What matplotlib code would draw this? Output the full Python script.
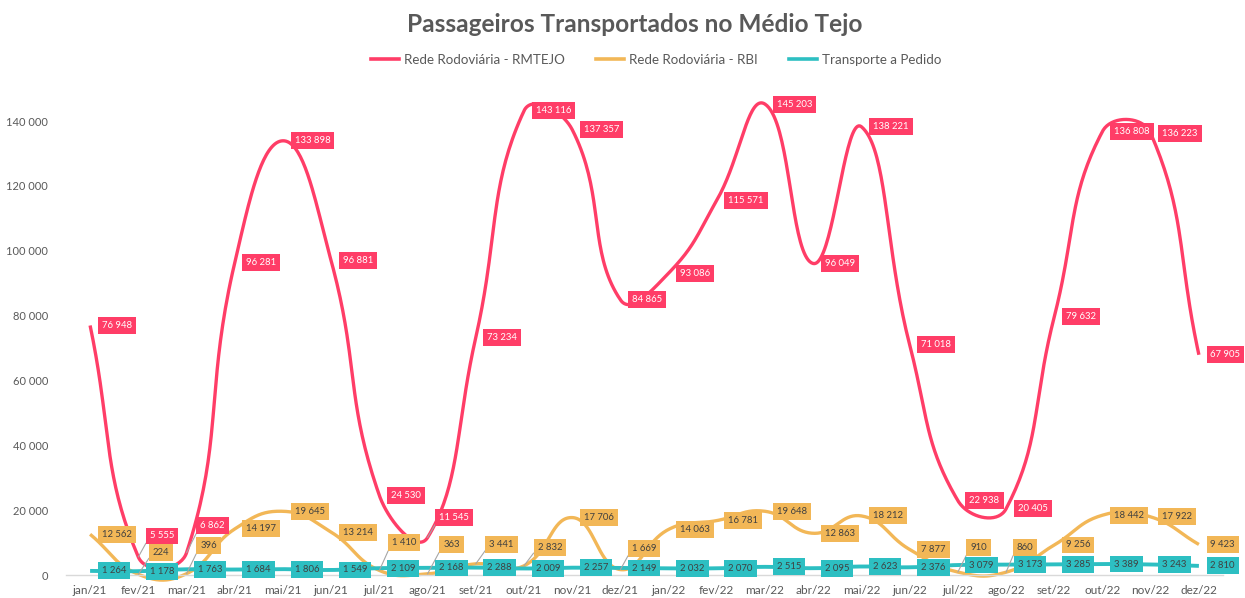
import numpy as np
import matplotlib
matplotlib.use("Agg")
import matplotlib.pyplot as plt
from matplotlib.lines import Line2D

# ---------------- data ----------------
months = ["jan/21", "fev/21", "mar/21", "abr/21", "mai/21", "jun/21", "jul/21", "ago/21",
          "set/21", "out/21", "nov/21", "dez/21", "jan/22", "fev/22", "mar/22", "abr/22",
          "mai/22", "jun/22", "jul/22", "ago/22", "set/22", "out/22", "nov/22", "dez/22"]
rmtejo = [76948, 5555, 6862, 96281, 133898, 96881, 24530, 11545, 73234, 143116, 137357, 84865,
          93086, 115571, 145203, 96049, 138221, 71018, 22938, 20405, 79632, 136808, 136223, 67905]
rbi = [12562, 224, 396, 14197, 19645, 13214, 1410, 363, 3441, 2832, 17706, 1669,
       14063, 16781, 19648, 12863, 18212, 7877, 910, 860, 9256, 18442, 17922, 9423]
pedido = [1264, 1178, 1763, 1684, 1806, 1549, 2109, 2168, 2288, 2009, 2257, 2149,
          2032, 2070, 2515, 2095, 2623, 2376, 3079, 3173, 3285, 3389, 3243, 2810]
series_names = ["Rede Rodoviária - RMTEJO", "Rede Rodoviária - RBI", "Transporte a Pedido"]
yticks = [0, 20000, 40000, 60000, 80000, 100000, 120000, 140000]

# ---------------- style ----------------
RED, ORANGE, TEAL = "#FF3D67", "#F2B757", "#2DBFC2"
GREY_TXT = "#595959"
FONT = "Lato"
plt.rcParams["font.family"] = [FONT, "DejaVu Sans"]

W, H = 1245, 598
fig = plt.figure(figsize=(W / 100, H / 100), dpi=100)
top_px = 575 - 150000 * 454 / 140000
ax = fig.add_axes([66 / W, 23 / H, (1223 - 66) / W, (575 - top_px) / H])
ax.set_xlim(-0.5, 23.5)
ax.set_ylim(0, 150000)
for sp in ["top", "right", "left"]:
    ax.spines[sp].set_visible(False)
ax.spines["bottom"].set_color("#D9D9D9")
ax.spines["bottom"].set_linewidth(1.0)
x = np.arange(len(months))
ax.set_xticks(x)
ax.set_xticklabels(months, fontsize=8.5, color=GREY_TXT)
ax.set_yticks(yticks)
ax.set_yticklabels([f"{v:,}".replace(",", " ") for v in yticks], fontsize=8, color=GREY_TXT)
ax.tick_params(axis="both", length=0)
ax.tick_params(axis="x", pad=7)
ax.tick_params(axis="y", pad=13)


def smooth(xs, ys, s=0.45, n=40):
    P = ax.transData.transform(np.column_stack([xs, ys]).astype(float))
    N = len(P)
    pts = []
    t = np.linspace(0, 1, n)[:, None]
    for i in range(N - 1):
        p0 = P[i - 1] if i > 0 else P[i]
        p1, p2 = P[i], P[i + 1]
        p3 = P[i + 2] if i + 2 < N else P[i + 1]
        d01 = np.linalg.norm(p1 - p0)
        d12 = np.linalg.norm(p2 - p1)
        d23 = np.linalg.norm(p3 - p2)
        c1 = p1 + (p2 - p0) * s * d12 / (d01 + d12)
        c2 = p2 - (p3 - p1) * s * d12 / (d12 + d23)
        seg = (1 - t) ** 3 * p1 + 3 * (1 - t) ** 2 * t * c1 + 3 * (1 - t) * t ** 2 * c2 + t ** 3 * p2
        pts.append(seg if i == 0 else seg[1:])
    pts = np.vstack(pts)
    return ax.transData.inverted().transform(pts)


for vals, col, lw in [(rmtejo, RED, 2.4), (rbi, ORANGE, 2.4), (pedido, TEAL, 2.8)]:
    c = smooth(x, vals)
    ax.plot(c[:, 0], c[:, 1], color=col, lw=lw, solid_capstyle="butt", clip_on=False, zorder=2)

# label offsets (pixels, left edge of box, +up) for moved labels with leader lines
moved = {
    ("r", 1): (8, 21), ("r", 2): (10, 27), ("r", 7): (8, 20),
    ("o", 1): (11, 22), ("o", 2): (10, 28), ("o", 6): (9, 28), ("o", 7): (12, 29),
    ("o", 8): (10, 19), ("o", 9): (10, 18), ("o", 11): (8, 21), ("o", 18): (9, 25),
    ("o", 19): (7, 25),
}
PAD = 3.6  # px


def fmt(v):
    return f"{v:,}".replace(",", " ")


for key, vals, col, tcol in [("r", rmtejo, RED, "white"), ("o", rbi, ORANGE, "#404040"),
                              ("t", pedido, TEAL, "#404040")]:
    for i, v in enumerate(vals):
        dx, dy = moved.get((key, i), (8, 0))
        kw = dict(textcoords="offset pixels", xytext=(dx + PAD, dy), ha="left", va="center",
                  fontsize=6.8, color=tcol, zorder=5, annotation_clip=False,
                  bbox=dict(boxstyle="square,pad=0.42", fc=col, ec="none"))
        if (key, i) in moved:
            kw["arrowprops"] = dict(arrowstyle="-", color="#A6A6A6", lw=0.8, shrinkA=0, shrinkB=0,
                                    relpos=(0, 0.5))
        ax.annotate(fmt(v), xy=(i, v), **kw)

fig.text(634.5 / W, 1 - 24 / H, "Passageiros Transportados no Médio Tejo", ha="center", va="center",
         fontsize=17.6, fontweight="bold", color=GREY_TXT)

handles = [Line2D([0], [0], color=c, lw=2.6) for c in (RED, ORANGE, TEAL)]
fig.legend(handles, series_names, loc="center", bbox_to_anchor=(0.527, 1 - 60 / H), ncol=3,
           frameon=False, fontsize=9.6, handlelength=2.1, handletextpad=0.4, columnspacing=2.3,
           labelcolor=GREY_TXT)

fig.savefig("out.png", dpi=100)
